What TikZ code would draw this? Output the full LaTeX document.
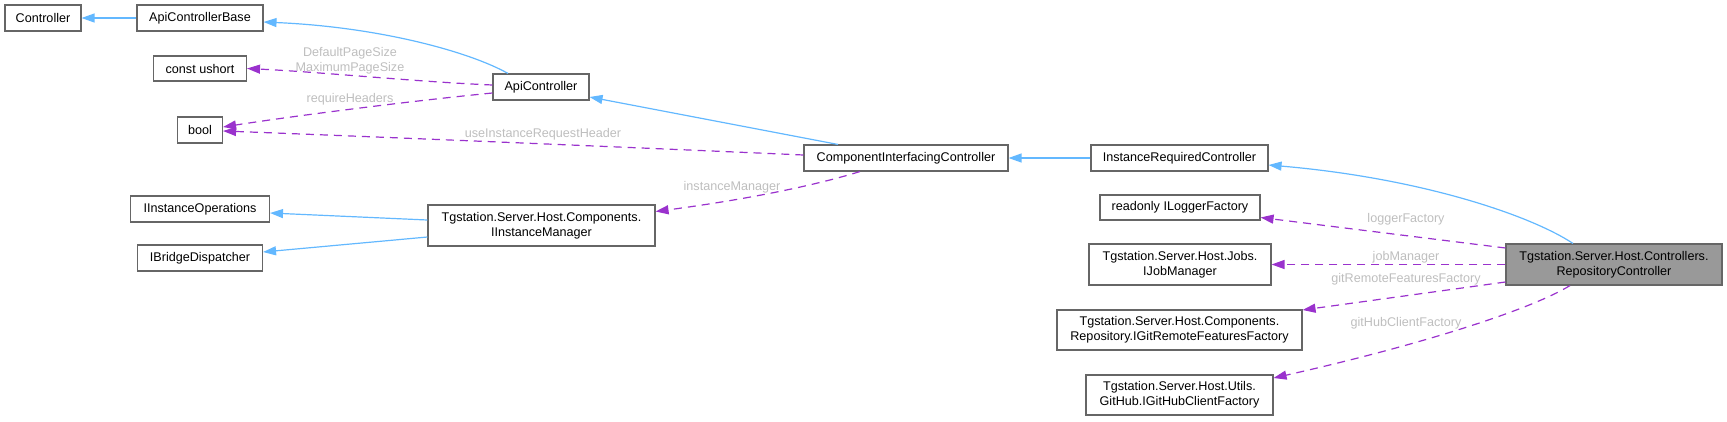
\documentclass[tikz,border=0pt]{standalone}
\usepackage{fontspec}
\setmainfont{Liberation Sans}
\usetikzlibrary{arrows.meta}
\definecolor{boxc}{HTML}{666666}
\definecolor{inhc}{HTML}{63B8FF}
\definecolor{depc}{HTML}{9A32CD}
\definecolor{lblc}{HTML}{BEBEBE}
\definecolor{curc}{HTML}{999999}
\newcommand\dxfont{\fontsize{12.6}{15}\selectfont}
\tikzset{
  box/.style={draw=boxc, fill=white, line width=1.1pt, inner sep=0pt, align=center, font=\dxfont},
  inh/.style={draw=inhc, line width=1.2pt, -{Triangle[length=13pt,width=9pt]}},
  dep/.style={draw=depc, line width=1.2pt, dash pattern=on 8pt off 6pt, -{Triangle[length=13pt,width=9pt]}},
  lbl/.style={text=lblc, font=\dxfont, inner sep=0pt, align=center}
}
\begin{document}
\begin{tikzpicture}[x=1pt,y=-1pt]
\useasboundingbox (0,0) rectangle (1727,421);
% nodes
\node[box, minimum width=76pt, minimum height=26pt] (ctrl) at (43,18) {Controller};
\node[box, minimum width=126pt, minimum height=26pt] (acb) at (200,18) {ApiControllerBase};
\node[box, minimum width=93pt, minimum height=25pt] (cus) at (200,68.5) {const ushort};
\node[box, minimum width=45pt, minimum height=26pt] (bool) at (200,130) {bool};
\node[box, minimum width=139pt, minimum height=26pt] (iio) at (200,209) {IInstanceOperations};
\node[box, minimum width=125pt, minimum height=26pt] (ibd) at (200,258) {IBridgeDispatcher};
\node[box, minimum width=96pt, minimum height=26pt] (apic) at (541,87) {ApiController};
\node[box, minimum width=227pt, minimum height=41pt] (iim) at (541.5,225.5) {Tgstation.Server.Host.Components.\\IInstanceManager};
\node[box, minimum width=204pt, minimum height=26pt] (cic) at (906,158) {ComponentInterfacingController};
\node[box, minimum width=177pt, minimum height=26pt] (irc) at (1179.5,158) {InstanceRequiredController};
\node[box, minimum width=160pt, minimum height=25pt] (ilf) at (1180,207.5) {readonly ILoggerFactory};
\node[box, minimum width=182pt, minimum height=41pt] (ijm) at (1180,264.5) {Tgstation.Server.Host.Jobs.\\IJobManager};
\node[box, minimum width=245pt, minimum height=40pt] (igr) at (1179.5,330) {Tgstation.Server.Host.Components.\\Repository.IGitRemoteFeaturesFactory};
\node[box, minimum width=187pt, minimum height=40pt] (igh) at (1179.5,395) {Tgstation.Server.Host.Utils.\\GitHub.IGitHubClientFactory};
\node[box, fill=curc, minimum width=216pt, minimum height=41pt] (rc) at (1614,264.5) {Tgstation.Server.Host.Controllers.\\RepositoryController};
% inheritance edges
\draw[inh] (acb) -- (ctrl);
\draw[inh] ([xshift=-33pt]apic.north) .. controls (470,52) and (380,27) .. ([yshift=-4pt]acb.east);
\draw[inh] ([xshift=-68pt]cic.north) -- ([yshift=-10pt]apic.east);
\draw[inh] (irc) -- (cic);
\draw[inh] ([xshift=-41pt]rc.north) .. controls (1530,215) and (1420,178) .. ([yshift=-7pt]irc.east);
\draw[inh] ([yshift=5.5pt]iim.west) -- ([yshift=-4pt]iio.east);
\draw[inh] ([yshift=-11.5pt]iim.west) -- ([yshift=6pt]ibd.east);
% dependency edges
\draw[dep] ([yshift=2pt]apic.west) .. controls (420,82) and (320,72) .. (cus.east);
\draw[dep] ([yshift=-6pt]apic.west) .. controls (420,100) and (300,115) .. ([yshift=3pt]bool.east);
\draw[dep] ([yshift=3pt]cic.west) .. controls (600,146) and (330,135) .. ([yshift=-1pt]bool.east);
\draw[dep] ([xshift=-46pt]cic.south) .. controls (800,190) and (720,203) .. ([yshift=14pt]iim.east);
\draw[dep] ([yshift=16.5pt]rc.west) -- ([yshift=-10pt]ilf.east);
\draw[dep] (rc) -- (ijm);
\draw[dep] ([yshift=-17.5pt]rc.west) -- ([yshift=20pt]igr.east);
\draw[dep] ([xshift=-44pt]rc.south) .. controls (1530,310) and (1420,345) .. ([yshift=17pt]igh.east);
% labels
\node[lbl] (l1) at (350,60.5) {DefaultPageSize\\MaximumPageSize};
\node[lbl] (l2) at (350,99) {requireHeaders};
\node[lbl] (l3) at (543,134) {useInstanceRequestHeader};
\node[lbl] (l4) at (732,187) {instanceManager};
\node[lbl] (l5) at (1406,219) {loggerFactory};
\node[lbl] (l6) at (1406,257) {jobManager};
\node[lbl] (l7) at (1406,279) {gitRemoteFeaturesFactory};
\node[lbl] (l8) at (1406,323) {gitHubClientFactory};
\end{tikzpicture}
\end{document}
